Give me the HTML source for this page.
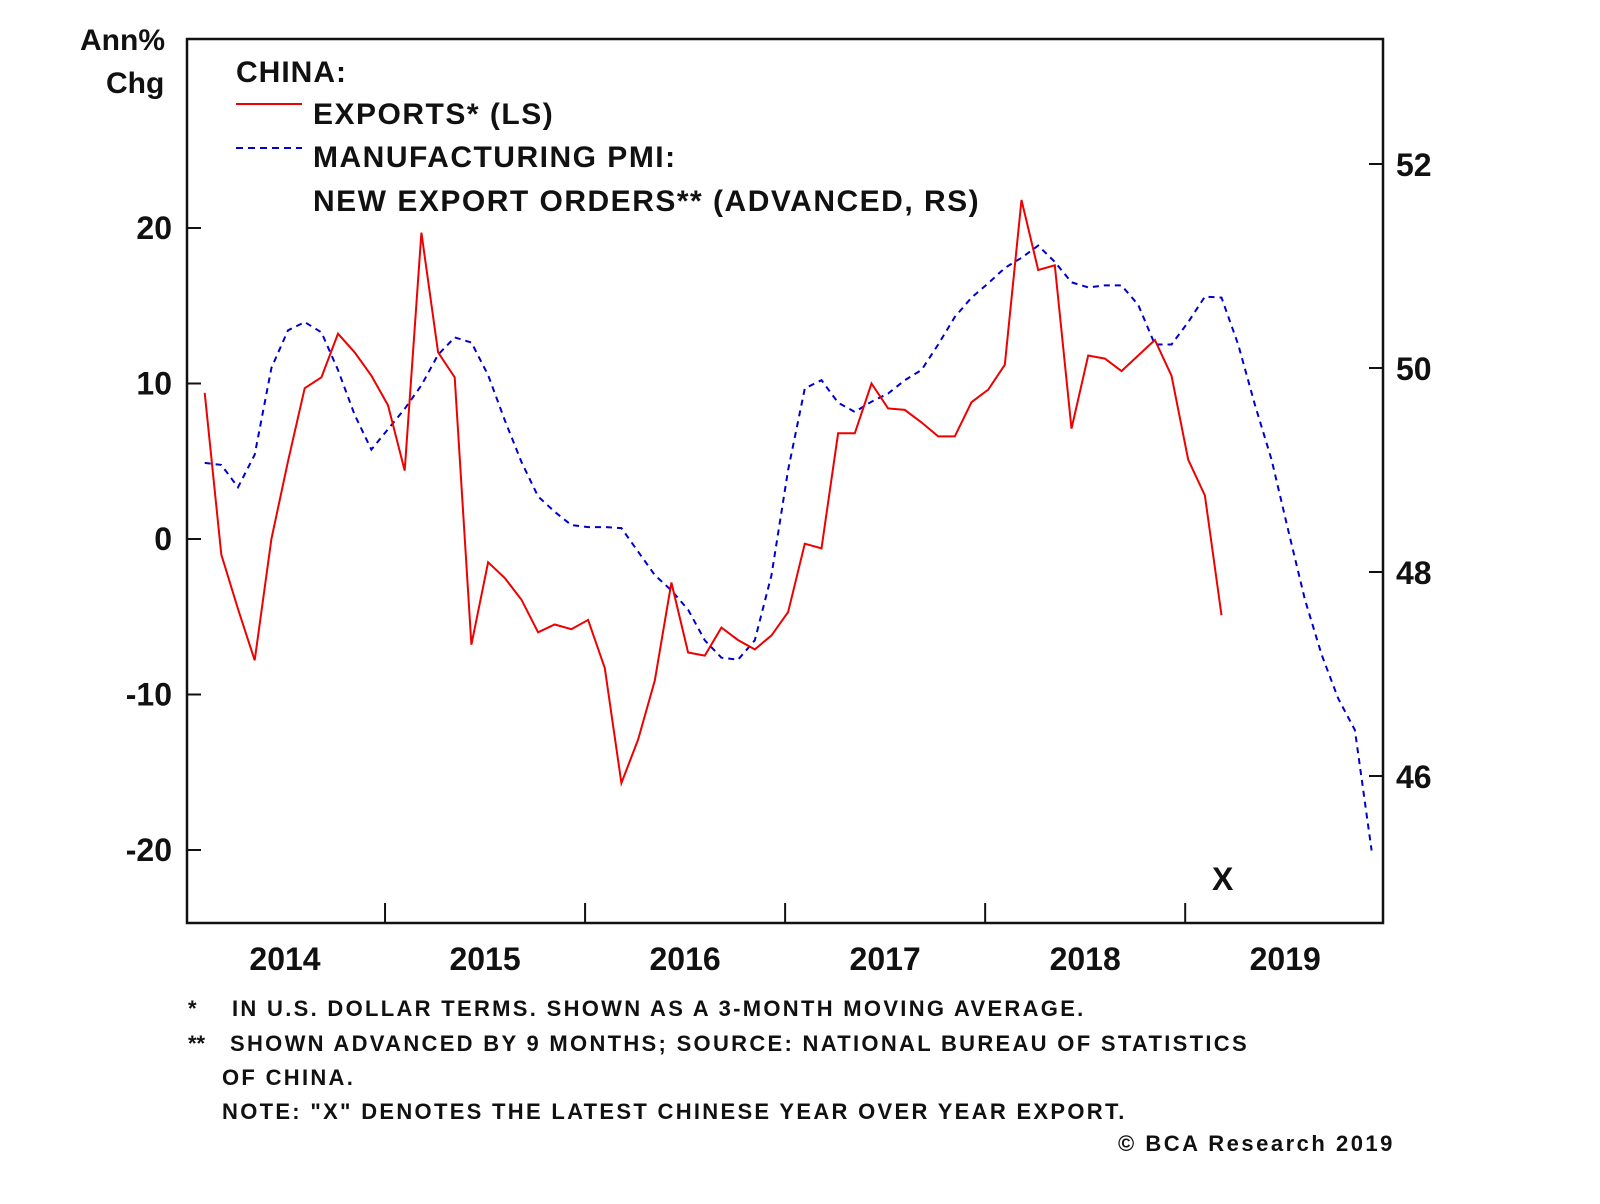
<!DOCTYPE html>
<html><head><meta charset="utf-8"><style>
html,body{margin:0;padding:0;background:#fff;}
body{width:1600px;height:1199px;overflow:hidden;font-family:"Liberation Sans",Arial,sans-serif;}
svg text{font-family:"Liberation Sans",Arial,sans-serif;font-weight:bold;fill:#111;}
</style></head><body>
<svg id="chart" width="1600" height="1199">
<g id="frame"></g>
<g id="axes"></g>
<g id="series"></g>
<g id="legend">
<text x="236" y="82" font-size="30" letter-spacing="1">CHINA:</text>
<line x1="236" y1="104" x2="302" y2="104" stroke="#e00" stroke-width="2"/>
<text x="313" y="124" font-size="30" letter-spacing="1.5">EXPORTS* (LS)</text>
<line x1="236" y1="148" x2="302" y2="148" stroke="#00c" stroke-width="2" stroke-dasharray="7,5"/>
<text x="313" y="167" font-size="30" letter-spacing="1.5">MANUFACTURING PMI:</text>
<text x="313" y="211" font-size="30" letter-spacing="1.5">NEW EXPORT ORDERS** (ADVANCED, RS)</text>
</g>
<text x="80" y="50" font-size="30">Ann%</text>
<text x="106" y="93" font-size="30">Chg</text>
<text x="1212" y="890" font-size="32">X</text>
<g>
<text x="188" y="1016" font-size="22">*</text>
<text x="232" y="1016" font-size="22" letter-spacing="2.3">IN U.S. DOLLAR TERMS. SHOWN AS A 3-MONTH MOVING AVERAGE.</text>
<text x="188" y="1051" font-size="22">**</text>
<text x="230" y="1051" font-size="22" letter-spacing="2.3">SHOWN ADVANCED BY 9 MONTHS; SOURCE: NATIONAL BUREAU OF STATISTICS</text>
<text x="222" y="1085" font-size="22" letter-spacing="2.3">OF CHINA.</text>
<text x="222" y="1119" font-size="22" letter-spacing="2.3">NOTE: "X" DENOTES THE LATEST CHINESE YEAR OVER YEAR EXPORT.</text>
<text x="1118" y="1151" font-size="22" letter-spacing="2.5">© BCA Research 2019</text>
</g>
</svg>
<script>
const years = ["2014","2015","2016","2017","2018","2019"];
const leftTicks = [20,10,0,-10,-20];
const rightTicks = [52,50,48,46];
const exportsStart = 1; // month index from Jan 2014
const exportsVals = [9.4,-1,-4.5,-7.8,0,5,9.7,10.4,13.2,12,10.5,8.6,4.4,19.7,12,10.4,-6.8,-1.5,-2.5,-3.9,-6,-5.5,-5.8,-5.2,-8.3,-15.7,-12.9,-9.1,-2.8,-7.3,-7.5,-5.7,-6.5,-7.1,-6.2,-4.7,-0.3,-0.6,6.8,6.8,10,8.4,8.3,7.5,6.6,6.6,8.8,9.6,11.2,21.8,17.3,17.6,7.1,11.8,11.6,10.8,11.8,12.8,10.5,5.1,2.8,-4.9];
const pmiStart = 1;
const pmiVals = [49.07,49.05,48.83,49.15,50.0,50.37,50.45,50.35,49.98,49.54,49.2,49.4,49.6,49.83,50.13,50.3,50.25,49.93,49.49,49.08,48.74,48.59,48.46,48.44,48.44,48.43,48.2,47.97,47.82,47.63,47.33,47.16,47.14,47.33,47.97,49.0,49.8,49.88,49.66,49.57,49.67,49.75,49.88,49.98,50.23,50.5,50.69,50.83,50.98,51.08,51.2,51.04,50.84,50.79,50.81,50.81,50.62,50.23,50.23,50.45,50.7,50.69,50.23,49.64,49.1,48.41,47.73,47.19,46.76,46.45,45.27];

const NS="http://www.w3.org/2000/svg";
const L=187,R=1383,T=39,B=923;
const xM = m => 188 + m*16.67;
const yL = v => 539 - v*15.55;
const yR = v => 368 - (v-50)*102;
function mk(tag,attrs,parent){const e=document.createElementNS(NS,tag);for(const k in attrs)e.setAttribute(k,attrs[k]);parent.appendChild(e);return e;}
const frame=document.getElementById('frame'),axes=document.getElementById('axes'),series=document.getElementById('series');
const fr=mk('rect',{x:L,y:T,width:R-L,height:B-T,fill:'none',stroke:'#111','stroke-width':2.5},frame);


leftTicks.forEach(v=>{
  const y=yL(v);
  const t=mk('line',{x1:L,x2:L+14,y1:y,y2:y,stroke:'#111','stroke-width':2},axes);
  
  
  const tx=mk('text',{x:172,y:y+11,'font-size':32,'text-anchor':'end'},axes);tx.textContent=v;
  
  
});
rightTicks.forEach(v=>{
  const y=yR(v);
  const t=mk('line',{x1:R-14,x2:R,y1:y,y2:y,stroke:'#111','stroke-width':2},axes);
  
  
  const tx=mk('text',{x:1396,y:y+12,'font-size':32},axes);tx.textContent=v;
  
  
});
years.forEach((yr,i)=>{
  const x0=xM(i*12)-3;
  if(i>0){const t=mk('line',{x1:x0,x2:x0,y1:B-20,y2:B,stroke:'#111','stroke-width':2},axes);
  
  }
  const tx=mk('text',{x:x0+100,y:970,'font-size':32,'text-anchor':'middle'},axes);tx.textContent=yr;
  
  
});
const pp=pmiVals.map((v,i)=>xM(pmiStart+i).toFixed(1)+','+yR(v).toFixed(1)).join(' ');
const pl=mk('polyline',{points:pp,fill:'none',stroke:'#00c','stroke-width':2,'stroke-dasharray':'6,5'},series);


const ep=exportsVals.map((v,i)=>xM(exportsStart+i).toFixed(1)+','+yL(v).toFixed(1)).join(' ');
const el=mk('polyline',{points:ep,fill:'none',stroke:'#e00','stroke-width':2},series);


</script>
</body></html>
